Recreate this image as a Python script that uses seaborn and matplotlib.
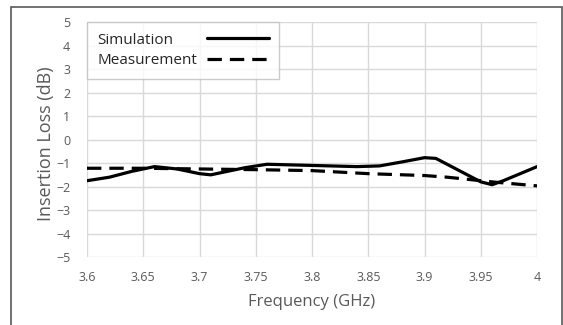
import numpy as np
import pandas as pd
import matplotlib
matplotlib.use("Agg")
import matplotlib.pyplot as plt
import seaborn as sns

# simulation trace
sim_freq = [3.60, 3.62, 3.64, 3.66, 3.68, 3.70, 3.71, 3.72, 3.74, 3.76, 3.80,
            3.84, 3.86, 3.88, 3.90, 3.91, 3.93, 3.95, 3.96, 3.97, 3.99, 4.00]
sim_loss = [-1.75, -1.6, -1.35, -1.15, -1.25, -1.45, -1.5, -1.4, -1.2, -1.05, -1.1,
            -1.15, -1.12, -0.95, -0.77, -0.8, -1.3, -1.8, -1.92, -1.75, -1.35, -1.15]

# measurement trace
meas_freq = [3.60, 3.65, 3.70, 3.75, 3.80, 3.85, 3.90, 3.92, 3.94, 3.96, 4.00]
meas_loss = [-1.22, -1.22, -1.25, -1.28, -1.32, -1.45, -1.53, -1.6, -1.7, -1.8, -1.97]

x_ticks = [3.6, 3.65, 3.7, 3.75, 3.8, 3.85, 3.9, 3.95, 4.0]
x_labels = ["3.6", "3.65", "3.7", "3.75", "3.8", "3.85", "3.9", "3.95", "4"]
y_ticks = list(range(-5, 6))

sns.set_style("white")
plt.rcParams['font.family'] = ['Open Sans', 'DejaVu Sans']

fig = plt.figure(figsize=(5.63, 3.25), dpi=100)
ax = fig.add_axes([0.1545, 0.209, 0.7995, 0.723])

# outer frame like the Excel chart area
fig.patches.append(plt.Rectangle((11 / 563, -0.1), 550.5 / 563, 1.1 - 7.5 / 325,
                                 transform=fig.transFigure, fill=False,
                                 edgecolor="#595959", lw=1.2))

sim = pd.DataFrame({"f": sim_freq, "v": sim_loss})
meas = pd.DataFrame({"f": meas_freq, "v": meas_loss})
sns.lineplot(data=sim, x="f", y="v", ax=ax, color="black", lw=2.3, label="Simulation")
sns.lineplot(data=meas, x="f", y="v", ax=ax, color="black", lw=2.3,
             linestyle=(0, (4.5, 2.5)), label="Measurement")

ax.set_xlim(3.6, 4.0)
ax.set_ylim(-5, 5)
ax.set_xticks(x_ticks)
ax.set_xticklabels(x_labels)
ax.set_yticks(y_ticks)
ax.grid(True, color="#d9d9d9", lw=1)
ax.set_axisbelow(True)
for s in ax.spines.values():
    s.set_visible(False)
ax.tick_params(axis="both", colors="#595959", labelsize=9, length=0)
ax.tick_params(axis="x", pad=10)
ax.tick_params(axis="y", pad=12)
ax.set_xlabel("Frequency (GHz)", fontsize=12, color="#595959", labelpad=7)
ax.set_ylabel("Insertion Loss (dB)", fontsize=13, color="#595959")
ax.yaxis.set_label_coords(-0.07, 0.483)

leg = ax.legend(loc="upper left", bbox_to_anchor=(0.0, 1.0), borderaxespad=0.0,
                markerfirst=False, fontsize=11, frameon=True, fancybox=False,
                handlelength=4.0, handletextpad=0.65, borderpad=0.7, labelspacing=0.35)
leg.get_frame().set_edgecolor("#bfbfbf")
leg.get_frame().set_linewidth(1)

# left-align the labels while keeping the lines flush right (Excel style)
fig.canvas.draw()
r = fig.canvas.get_renderer()
widths = [t.get_window_extent(r).width * 72 / fig.dpi for t in leg.get_texts()]
col = leg._legend_handle_box.get_children()[0]
for hp, w in zip(col.get_children(), widths):
    hp.sep = hp.sep + (max(widths) - w)

fig.savefig("out.png", dpi=100)
